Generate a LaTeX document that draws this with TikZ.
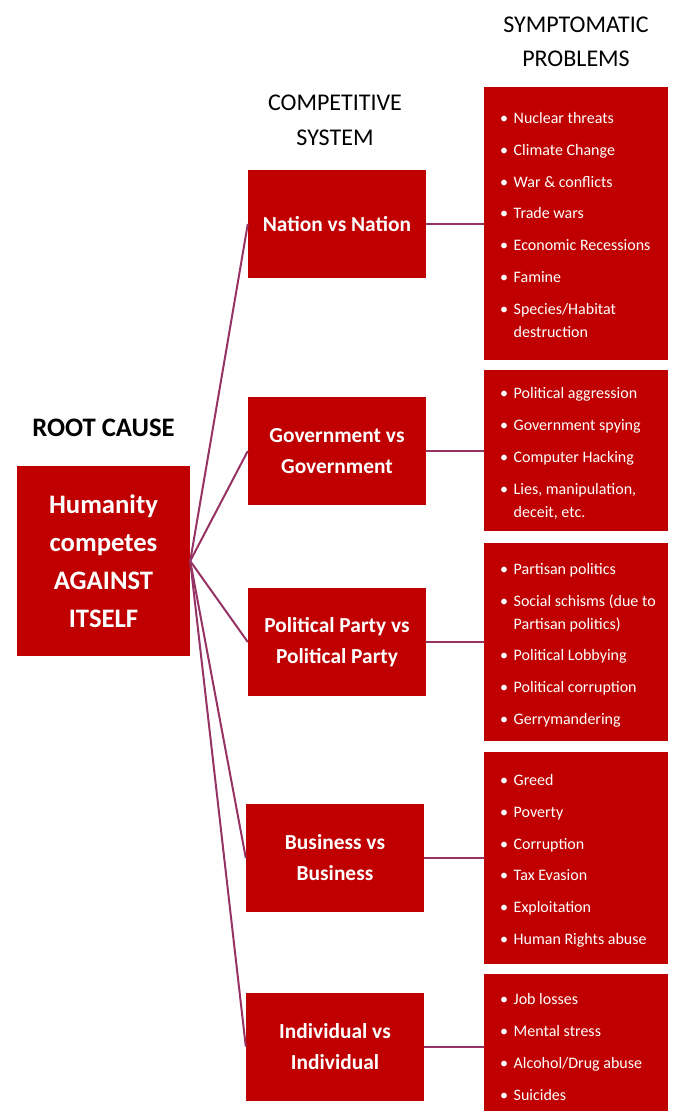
\documentclass[tikz,border=0pt]{standalone}
\usepackage{fontspec}
\setmainfont{Carlito}
\definecolor{boxred}{RGB}{192,0,0}
\definecolor{linkc}{RGB}{150,50,100}
\newcommand\blt{\makebox[13.5pt][l]{•}}
\newcommand\cnt{\hspace*{13.5pt}}
\begin{document}
\begin{tikzpicture}[x=1pt,y=-1pt,
 box/.style={fill=boxred, draw=none, inner sep=0pt, text=white, align=center},
 midbox/.style={box, minimum width=178pt, minimum height=108pt, font=\bfseries\fontsize{21.4}{31}\selectfont},
 rbox/.style={box, minimum width=184pt},
 link/.style={draw=linkc, line width=2pt},
 bul/.style={anchor=base west, inner sep=0pt, text=white, font=\fontsize{16}{18}\selectfont},
 head/.style={anchor=base, inner sep=0pt, font=\fontsize{24}{28}\selectfont}]
\useasboundingbox (0,0) rectangle (672,1111);
% headers
\node[head] (h1) at (576,32) {SYMPTOMATIC};
\node[head] (h2) at (576,66) {PROBLEMS};
\node[head] (h3) at (335,110) {COMPETITIVE};
\node[head] (h4) at (335,145) {SYSTEM};
\node[head, font=\bfseries\fontsize{26.7}{30}\selectfont] (h5) at (103.5,436) {ROOT CAUSE};
% root
\node[box, minimum width=173pt, minimum height=190pt, font=\bfseries\fontsize{26.7}{38}\selectfont] (root) at (103.5,561) {Humanity\\competes\\AGAINST\\ITSELF};
% middle
\node[midbox] (m1) at (337,224) {Nation vs Nation};
\node[midbox] (m2) at (337,451) {Government vs\\Government};
\node[midbox] (m3) at (337,642) {Political Party vs\\Political Party};
\node[midbox] (m4) at (335,858) {Business vs\\Business};
\node[midbox] (m5) at (335,1046.5) {Individual vs\\Individual};
% right
\node[rbox, minimum height=273pt] (r1) at (576,223.5) {};
\node[rbox, minimum height=161pt] (r2) at (576,450.5) {};
\node[rbox, minimum height=198pt] (r3) at (576,642) {};
\node[rbox, minimum height=212pt] (r4) at (576,858) {};
\node[rbox, minimum height=137pt] (r5) at (576,1042.5) {};
% connectors
\foreach \i in {1,...,5}{
  \draw[link] (root.east) -- (m\i.west);
  \draw[link] (m\i.east) -- (m\i.east -| r\i.west);
}
% bullets
\foreach \n/\yy/\tx in {
 a1/123/\blt Nuclear threats, a2/155/\blt Climate Change, a3/187/\blt War \& conflicts,
 a4/218/\blt Trade wars, a5/250/\blt Economic Recessions, a6/282/\blt Famine,
 a7/314/{\blt Species/Habitat}, a8/337/\cnt destruction,
 b1/398/\blt Political aggression, b2/430/\blt Government spying, b3/462/\blt Computer Hacking,
 b4/494/{\blt Lies, manipulation,}, b5/517/{\cnt deceit, etc.},
 c1/574/\blt Partisan politics, c2/606/\blt Social schisms (due to, c3/629/\cnt Partisan politics),
 c4/660/\blt Political Lobbying, c5/692/\blt Political corruption, c6/724/\blt Gerrymandering,
 d1/785/\blt Greed, d2/817/\blt Poverty, d3/849/\blt Corruption, d4/880/\blt Tax Evasion,
 d5/912/\blt Exploitation, d6/944/\blt Human Rights abuse,
 e1/1004/\blt Job losses, e2/1036/\blt Mental stress, e3/1068/{\blt Alcohol/Drug abuse}, e4/1100/\blt Suicides}
 {\node[bul] (\n) at (500,\yy) {\tx};}
\end{tikzpicture}
\end{document}
